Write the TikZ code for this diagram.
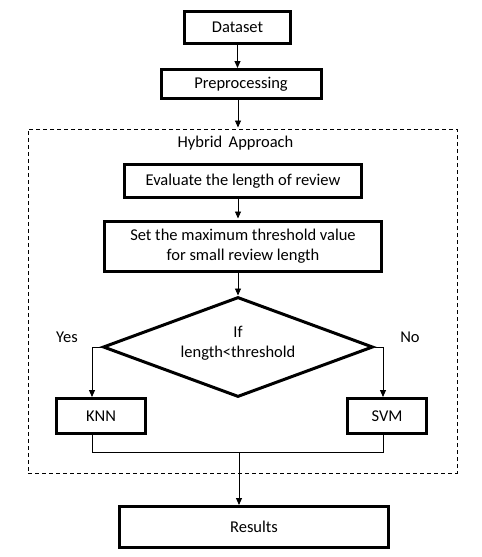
\documentclass[tikz,border=0pt]{standalone}
\usepackage{fontspec}
\setmainfont{Carlito}
\usetikzlibrary{arrows.meta,shapes.geometric}
\begin{document}
\begin{tikzpicture}[x=1pt,y=-1pt,
  thickbox/.style={draw=black,line width=3pt,rectangle,inner sep=0pt,align=center,font=\fontsize{16.5}{20}\selectfont},
  thinbox/.style={draw=black,line width=0.8pt,dashed,dash pattern=on 4pt off 3pt,rectangle,inner sep=0pt},
  lbl/.style={font=\fontsize{16.5}{20}\selectfont,inner sep=0pt},
  conn/.style={draw=black,line width=0.9pt},
  arr/.style={conn,-{Triangle[length=7pt,width=6pt]}}]
\useasboundingbox (0,0) rectangle (482,557);
\fill[white] (0,0) rectangle (482,557);
\node[thickbox,minimum width=106pt,minimum height=32pt] (data) at (237.5,27.5) {Dataset};
\node[thickbox,minimum width=160pt,minimum height=29pt] (pre) at (241,84) {Preprocessing};
\node[thinbox,minimum width=429pt,minimum height=344pt] (hyb) at (242.5,301) {};
\node[lbl] (hlabel) at (235.5,143) {Hybrid\ \,Approach};
\node[thickbox,minimum width=237pt,minimum height=33pt] (eval) at (243,181) {Evaluate the length of review};
\node[thickbox,minimum width=277pt,minimum height=50pt] (set) at (243,246.5) {Set the maximum threshold value\\for small review length};
\node[draw=black,line width=3pt,diamond,inner sep=0pt,minimum width=270pt,minimum height=100pt] (dec) at (238,347) {};
\node[lbl] (iftext) at (238,332) {If};
\node[lbl] (lt) at (238,353) {length<threshold};
\node[lbl] (yes) at (67,337) {Yes};
\node[lbl] (no) at (410,337) {No};
\node[thickbox,minimum width=89pt,minimum height=35pt] (knn) at (101,416) {KNN};
\node[thickbox,minimum width=79pt,minimum height=35pt] (svm) at (387,416) {SVM};
\node[thickbox,minimum width=269pt,minimum height=41pt] (res) at (254,527) {Results};
\coordinate (yl) at (92,347);
\coordinate (nl) at (383,347);
\coordinate (jl) at (92,452);
\coordinate (jr) at (383,452);
\coordinate (jm) at (239,452);
\draw[arr] (data.south) -- (data.south |- pre.north);
\draw[arr] (238,100) -- (238,127.5);
\draw[arr] (238,199) -- (238,218.5);
\draw[arr] (238,272) -- (dec.north);
\draw[arr] (dec.west) -- (yl) -- (yl |- knn.north);
\draw[arr] (dec.east) -- (nl) -- (nl |- svm.north);
\draw[conn] (jl |- knn.south) -- (jl) -- (jr) -- (jr |- svm.south);
\draw[arr] (jm) -- (jm |- res.north);
\end{tikzpicture}
\end{document}
